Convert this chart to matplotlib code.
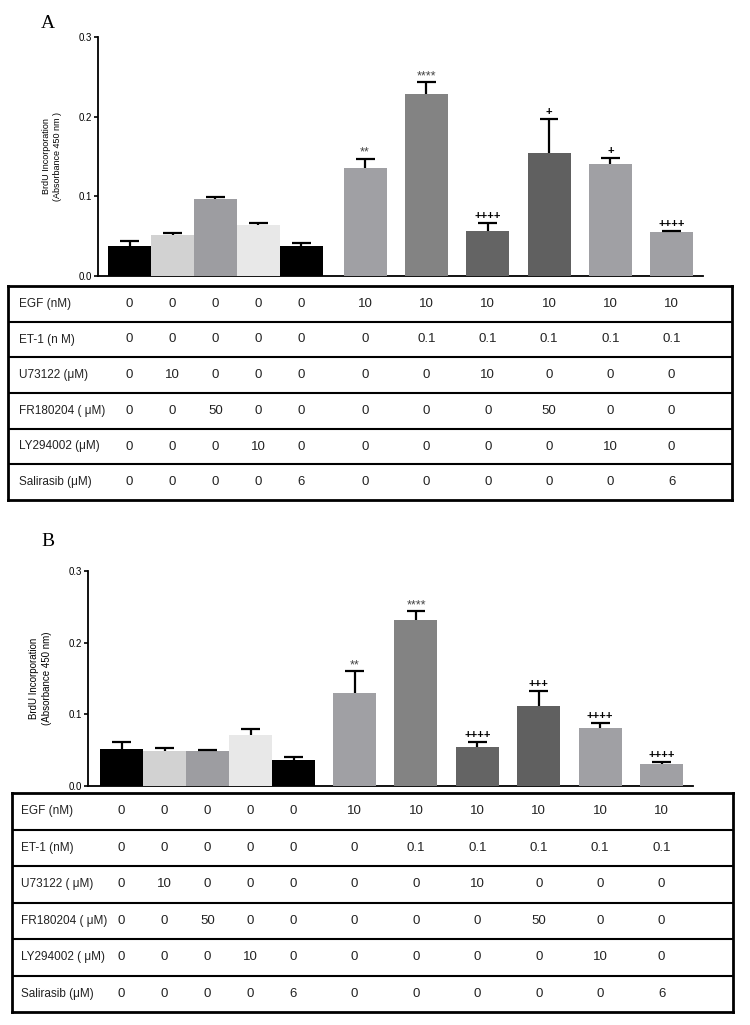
import matplotlib
matplotlib.use("Agg")
import matplotlib.pyplot as plt
import matplotlib.transforms as mtransforms

plt.rcParams['font.family'] = ['Liberation Sans', 'DejaVu Sans']

# data
means_a = [0.038, 0.051, 0.097, 0.064, 0.038, 0.135, 0.229, 0.057, 0.154, 0.140, 0.055]
upper_a = [0.044, 0.054, 0.0995, 0.066, 0.042, 0.147, 0.243, 0.067, 0.197, 0.148, 0.056]
marks_a = ['', '', '', '', '', '**', '****', '++++', '+', '+', '++++']

means_b = [0.052, 0.049, 0.049, 0.071, 0.036, 0.130, 0.231, 0.055, 0.112, 0.081, 0.031]
upper_b = [0.062, 0.053, 0.050, 0.079, 0.040, 0.160, 0.244, 0.061, 0.133, 0.088, 0.034]
marks_b = ['', '', '', '', '', '**', '****', '++++', '+++', '++++', '++++']

bar_colors = ['#000000', '#d2d2d2', '#9d9da1', '#e8e8e8', '#000000',
              '#a0a0a4', '#838383', '#646464', '#606060', '#a0a0a4', '#a0a0a4']

row_labels_a = ['EGF (nM)', 'ET-1 (n M)', 'U73122 (μM)', 'FR180204 ( μM)', 'LY294002 (μM)', 'Salirasib (μM)']
row_labels_b = ['EGF (nM)', 'ET-1 (nM)', 'U73122 ( μM)', 'FR180204 ( μM)', 'LY294002 ( μM)', 'Salirasib (μM)']
egf = ['0', '0', '0', '0', '0', '10', '10', '10', '10', '10', '10']
et1 = ['0', '0', '0', '0', '0', '0', '0.1', '0.1', '0.1', '0.1', '0.1']
u73122 = ['0', '10', '0', '0', '0', '0', '0', '10', '0', '0', '0']
fr180204 = ['0', '0', '50', '0', '0', '0', '0', '0', '50', '0', '0']
ly294002 = ['0', '0', '0', '10', '0', '0', '0', '0', '0', '10', '0']
salirasib = ['0', '0', '0', '0', '6', '0', '0', '0', '0', '0', '6']
table_rows = [egf, et1, u73122, fr180204, ly294002, salirasib]

W, H = 750, 1025


def px_axes(fig, left, top, right, bottom):
    return fig.add_axes([left / W, 1 - bottom / H, (right - left) / W, (bottom - top) / H])


def bar_positions(gap_start, pitch):
    pos = [0, 1, 2, 3, 4]
    for k in range(6):
        pos.append(gap_start + pitch * k)
    return pos


def draw_chart(ax, x, means, upper, marks, xlim, ylab, lab_size):
    ax.bar(x, means, width=1.0, color=bar_colors, edgecolor='none', zorder=3)
    ax.vlines(x, means, upper, color='black', lw=1.6, zorder=4)
    ax.hlines(upper, [p - 0.22 for p in x], [p + 0.22 for p in x], color='black', lw=1.6, zorder=4)
    for p, u, m in zip(x, upper, marks):
        if not m:
            continue
        if '*' in m:
            ax.annotate(m, (p, u), xytext=(0, 0), textcoords='offset points',
                        ha='center', va='bottom', fontsize=9, color='#444444')
        else:
            ax.annotate(m, (p, u), xytext=(0, 1.5), textcoords='offset points',
                        ha='center', va='bottom', fontsize=8, fontweight='bold')
    ax.set_xlim(*xlim)
    ax.set_ylim(0, 0.3)
    ax.set_yticks([0.0, 0.1, 0.2, 0.3])
    ax.set_yticklabels(['0.0', '0.1', '0.2', '0.3'])
    ax.set_xticks([])
    ax.tick_params(axis='y', labelsize=7, length=3, width=1.2, pad=1.5)
    for s in ['top', 'right']:
        ax.spines[s].set_visible(False)
    for s in ['left', 'bottom']:
        ax.spines[s].set_linewidth(1.3)
    ax.set_ylabel(ylab, fontsize=lab_size, labelpad=12, linespacing=1.3)


def draw_table(ax, chart_ax, x, labels, label_x):
    ax.set_xlim(0, 1)
    ax.set_ylim(0, 6)
    ax.set_xticks([])
    ax.set_yticks([])
    for s in ax.spines.values():
        s.set_linewidth(2)
    for k in range(1, 6):
        ax.axhline(k, color='black', lw=1.5)
    trans = mtransforms.blended_transform_factory(chart_ax.transData, ax.transData)
    for i, (lab, vals) in enumerate(zip(labels, table_rows)):
        yc = 5.5 - i
        ax.text(label_x, yc, lab, ha='left', va='center', fontsize=8.5, color='#222222')
        for p, v in zip(x, vals):
            ax.text(p, yc, v, transform=trans, ha='center', va='center', fontsize=9.5, color='#222222')


fig = plt.figure(figsize=(7.5, 10.25), dpi=100)

# panel A
x_a = bar_positions(5.48, 1.426)
ax_a = px_axes(fig, 98, 37, 703, 276)
draw_chart(ax_a, x_a, means_a, upper_a, marks_a, (-0.733, 13.34),
           'BrdU Incorporation\n(Absorbance 450 nm )', 6.5)
tab_a = px_axes(fig, 8, 286, 732, 500)
draw_table(tab_a, ax_a, x_a, row_labels_a, 0.015)
fig.text(48 / W, 1 - 23 / H, 'A', family='Liberation Serif', fontsize=14, ha='center', va='center')

# panel B
x_b = bar_positions(5.42, 1.428)
ax_b = px_axes(fig, 88, 571, 693, 786)
draw_chart(ax_b, x_b, means_b, upper_b, marks_b, (-0.78, 13.29),
           'BrdU Incorporation\n(Absorbance 450 nm)', 7)
tab_b = px_axes(fig, 12, 793, 733, 1012)
draw_table(tab_b, ax_b, x_b, row_labels_b, 0.0125)
fig.text(48 / W, 1 - 541 / H, 'B', family='Liberation Serif', fontsize=14, ha='center', va='center')

fig.savefig('out.png', dpi=100)
